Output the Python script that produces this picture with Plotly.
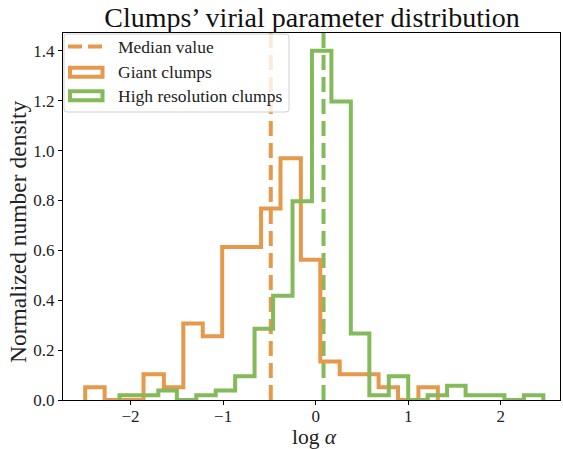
import plotly.graph_objects as go

# Histogram data (normalized density per bin)
giant_edges = [-2.49, -2.28, -2.07, -1.86, -1.64, -1.43, -1.22, -1.01, -0.80, -0.59,
               -0.38, -0.16, 0.05, 0.26, 0.47, 0.68, 0.89, 1.11, 1.32]
giant_density = [0.051, 0.0, 0.0, 0.103, 0.051, 0.307, 0.256, 0.614, 0.614, 0.768,
                 0.970, 0.563, 0.154, 0.103, 0.103, 0.051, 0.0, 0.051]

hires_edges = [-2.12, -1.91, -1.70, -1.50, -1.29, -1.08, -0.87, -0.66, -0.46, -0.25,
               -0.04, 0.17, 0.38, 0.58, 0.79, 1.00, 1.21, 1.42, 1.62, 1.83, 2.04, 2.25, 2.46]
hires_density = [0.019, 0.019, 0.038, 0.0, 0.019, 0.038, 0.095, 0.286, 0.418, 0.797,
                 1.401, 1.197, 0.267, 0.019, 0.095, 0.0, 0.019, 0.057, 0.019, 0.019, 0.0, 0.019]

median_giant = -0.485
median_hires = 0.085

legend_labels = ["Median value", "Giant clumps", "High resolution clumps"]

ORANGE = '#E6994B'
GREEN = '#84BA5A'
FONT = 'Liberation Serif'
DASH = '15px,7px'

W, H = 563, 449
L, R, T, B = 63, 560, 33, 400  # plot area in pixels


def px(x):
    return (x - L) / (R - L)


def py(y):
    return 1 - (y - T) / (B - T)


def step_trace(edges, dens, color):
    # closed step outline like matplotlib histtype='step'
    xs = [edges[0]] + list(edges)
    ys = [0] + list(dens) + [0]
    return go.Scatter(x=xs, y=ys, mode='lines', line=dict(color=color, width=4, shape='hv'),
                      showlegend=False, hoverinfo='skip')


fig = go.Figure()
fig.add_trace(step_trace(giant_edges, giant_density, ORANGE))
fig.add_trace(step_trace(hires_edges, hires_density, GREEN))

shapes = []
for xm, c in [(median_giant, ORANGE), (median_hires, GREEN)]:
    shapes.append(dict(type='line', xref='x', yref='paper', x0=xm, x1=xm, y0=0, y1=1,
                       line=dict(color=c, width=4, dash=DASH), layer='below'))

# manual legend box (rounded, semi-transparent like matplotlib)
x0, x1, y0, y1 = px(64), px(289), py(34), py(112)
rx, ry = 3 / (R - L), 3 / (B - T)
path = (f"M {x0+rx},{y0} L {x1-rx},{y0} Q {x1},{y0} {x1},{y0-ry} L {x1},{y1+ry} "
        f"Q {x1},{y1} {x1-rx},{y1} L {x0+rx},{y1} Q {x0},{y1} {x0},{y1+ry} "
        f"L {x0},{y0-ry} Q {x0},{y0} {x0+rx},{y0} Z")
shapes.append(dict(type='path', xref='paper', yref='paper', path=path,
                   fillcolor='rgba(255,255,255,0.8)', line=dict(color='#d0d0d0', width=1),
                   layer='above'))
shapes.append(dict(type='line', xref='paper', yref='paper', x0=px(68), x1=px(104),
                   y0=py(46.5), y1=py(46.5), line=dict(color=ORANGE, width=4, dash='14px,6px'),
                   layer='above'))
for yc, c in [(72.3, ORANGE), (95.7, GREEN)]:
    shapes.append(dict(type='rect', xref='paper', yref='paper', x0=px(70), x1=px(102.5),
                       y0=py(yc - 4.5), y1=py(yc + 4.5), line=dict(color=c, width=4),
                       fillcolor='rgba(0,0,0,0)', layer='above'))

annotations = []
for lab, yc in zip(legend_labels, [46.5, 72.3, 95.7]):
    annotations.append(dict(text=lab, xref='paper', yref='paper', x=px(116), y=py(yc),
                            xanchor='left', yanchor='middle', showarrow=False,
                            font=dict(family=FONT, size=17.5, color='#222')))
annotations.append(dict(text="Normalized number density", xref='paper', yref='paper',
                        x=px(18), y=py(232), textangle=-90, showarrow=False,
                        xanchor='center', yanchor='middle',
                        font=dict(family=FONT, size=23.5, color='#222')))
annotations.append(dict(text="log <i>α</i>", xref='paper', yref='paper',
                        x=px(314), y=py(437), showarrow=False,
                        xanchor='center', yanchor='middle',
                        font=dict(family=FONT, size=21.5, color='#222')))

fig.update_layout(
    width=W, height=H,
    margin=dict(l=L, r=W - R, t=T, b=H - B, pad=0),
    paper_bgcolor='white', plot_bgcolor='white',
    title=dict(text="Clumps’ virial parameter distribution", xref='container', x=312 / W,
               xanchor='center', y=1 - 17 / H, yanchor='middle',
               font=dict(family=FONT, size=28, color='#111')),
    shapes=shapes, annotations=annotations,
    font=dict(family=FONT, color='#222'),
)
fig.update_xaxes(range=[-2.73, 2.64], tickvals=[-2, -1, 0, 1, 2], showgrid=False, zeroline=False,
                 showline=True, linecolor='black', linewidth=1, mirror=True,
                 ticks='outside', ticklen=4, tickwidth=1, tickcolor='black',
                 ticklabelstandoff=-3,
                 tickfont=dict(family=FONT, size=17, color='#222'))
fig.update_yaxes(range=[0, 1.472], tickvals=[0, 0.2, 0.4, 0.6, 0.8, 1.0, 1.2, 1.4],
                 tickformat='.1f', showgrid=False, zeroline=False,
                 showline=True, linecolor='black', linewidth=1, mirror=True,
                 ticks='outside', ticklen=4, tickwidth=1, tickcolor='black',
                 tickfont=dict(family=FONT, size=17, color='#222'))

# drop the default 8px page margin so the figure sits at the window origin
fig.write_html("out.html", config={'displayModeBar': False},
               post_script="document.body.style.margin='0';")
